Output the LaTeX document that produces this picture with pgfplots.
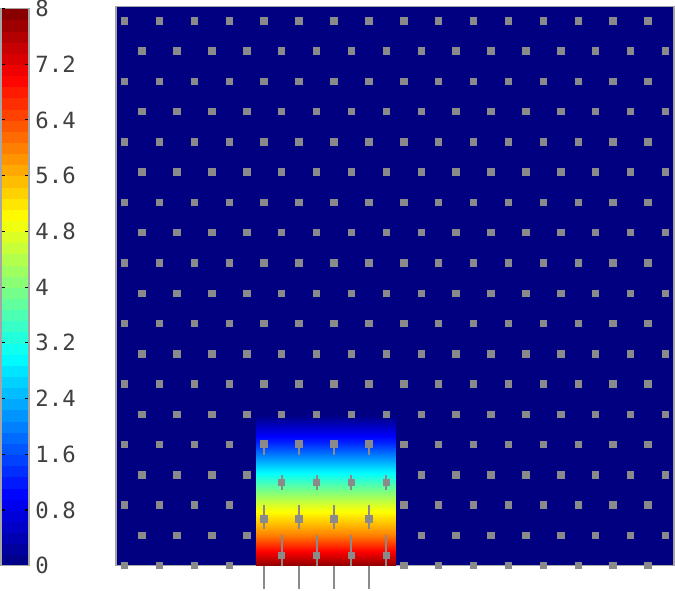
\documentclass[border=0pt]{standalone}
\usepackage{fontspec}
\usepackage{pgfplots}
\pgfplotsset{compat=1.18}
\newfontfamily\cbfont{DejaVu Sans Mono}
\definecolor{navybg}{RGB}{0,0,128}
\definecolor{dotgray}{RGB}{138,138,138}
\definecolor{framegray}{RGB}{165,165,165}

\begin{document}
\begin{tikzpicture}
\begin{axis}[
  name=main,
  at={(0,0)}, anchor=south west,
  scale only axis, width=550pt, height=551pt,
  xmin=0, xmax=16, ymin=0, ymax=16,
  xtick=\empty, ytick=\empty,
  axis background/.style={fill=navybg},
  axis line style={draw=framegray, line width=1.5pt},
  colormap/jet, point meta min=0, point meta max=8,
  colorbar sampled,
  colorbar style={
    samples=51,
    scale only axis, width=28pt, height=549pt,
    at={(parent axis.south west)}, anchor=south east, xshift=-94pt,
    ytick={0,0.8,1.6,2.4,3.2,4,4.8,5.6,6.4,7.2,8},
    yticklabels={0,0.8,1.6,2.4,3.2,4,4.8,5.6,6.4,7.2,8},
    yticklabel pos=right, ytick pos=both, ytick align=inside,
    major tick length=4pt,
    tick style={black, line width=1pt},
    axis line style={draw=framegray, line width=1.5pt},
    yticklabel style={font=\cbfont\fontsize{22}{26}\selectfont, text=black!75, anchor=west, inner sep=0pt, xshift=6pt},
  },
]
% water column, pressure value per row
\addplot[surf, shader=interp, mesh/cols=2, point meta=explicit] table[meta=c] {
x y c
4 0 7.9
8 0 7.9
4 0.87 6.0
8 0.87 6.0
4 1.73 4.7
8 1.73 4.7
4 2.6 3.1
8 2.6 3.1
4 3.5 1.3
8 3.5 1.3
4 4.3 0
8 4.3 0
};
% velocity lines of the moving particles
\addplot[dotgray, line width=2pt, quiver={u=0, v=\thisrow{v}}] table {
x y v
4.25 3.48 -0.30
5.25 3.48 -0.30
6.25 3.48 -0.30
7.25 3.48 -0.30
4.75 2.60 -0.42
5.75 2.60 -0.42
6.75 2.60 -0.42
7.75 2.60 -0.42
4.25 1.73 -0.69
5.25 1.73 -0.69
6.25 1.73 -0.69
7.25 1.73 -0.69
4.75 0.87 -0.95
5.75 0.87 -0.95
6.75 0.87 -0.95
7.75 0.87 -0.95
};
% moving particles
\addplot[only marks, mark=square*, mark size=3.2pt, mark options={fill=dotgray, draw=dotgray, line width=0pt}] coordinates {
(4.25,3.48) (5.25,3.48) (6.25,3.48) (7.25,3.48)
(4.75,2.38) (5.75,2.38) (6.75,2.38) (7.75,2.38)
(4.25,1.34) (5.25,1.34) (6.25,1.34) (7.25,1.34)
(4.75,0.29) (5.75,0.29) (6.75,0.29) (7.75,0.29)
};
% fixed particles
\addplot[only marks, mark=square*, mark size=3.2pt, mark options={fill=dotgray, draw=dotgray, line width=0pt}] coordinates {
(0.25,0) (1.25,0) (2.25,0) (3.25,0) (8.25,0) (9.25,0) (10.25,0) (11.25,0) (12.25,0) (13.25,0) (14.25,0) (15.25,0)
(0.75,0.866) (1.75,0.866) (2.75,0.866) (3.75,0.866) (8.75,0.866) (9.75,0.866) (10.75,0.866) (11.75,0.866) (12.75,0.866) (13.75,0.866) (14.75,0.866) (15.75,0.866)
(0.25,1.732) (1.25,1.732) (2.25,1.732) (3.25,1.732) (8.25,1.732) (9.25,1.732) (10.25,1.732) (11.25,1.732) (12.25,1.732) (13.25,1.732) (14.25,1.732) (15.25,1.732)
(0.75,2.598) (1.75,2.598) (2.75,2.598) (3.75,2.598) (8.75,2.598) (9.75,2.598) (10.75,2.598) (11.75,2.598) (12.75,2.598) (13.75,2.598) (14.75,2.598) (15.75,2.598)
(0.25,3.464) (1.25,3.464) (2.25,3.464) (3.25,3.464) (8.25,3.464) (9.25,3.464) (10.25,3.464) (11.25,3.464) (12.25,3.464) (13.25,3.464) (14.25,3.464) (15.25,3.464)
(0.75,4.330) (1.75,4.330) (2.75,4.330) (3.75,4.330) (4.75,4.330) (5.75,4.330) (6.75,4.330) (7.75,4.330) (8.75,4.330) (9.75,4.330) (10.75,4.330) (11.75,4.330) (12.75,4.330) (13.75,4.330) (14.75,4.330) (15.75,4.330)
(0.25,5.196) (1.25,5.196) (2.25,5.196) (3.25,5.196) (4.25,5.196) (5.25,5.196) (6.25,5.196) (7.25,5.196) (8.25,5.196) (9.25,5.196) (10.25,5.196) (11.25,5.196) (12.25,5.196) (13.25,5.196) (14.25,5.196) (15.25,5.196)
(0.75,6.062) (1.75,6.062) (2.75,6.062) (3.75,6.062) (4.75,6.062) (5.75,6.062) (6.75,6.062) (7.75,6.062) (8.75,6.062) (9.75,6.062) (10.75,6.062) (11.75,6.062) (12.75,6.062) (13.75,6.062) (14.75,6.062) (15.75,6.062)
(0.25,6.928) (1.25,6.928) (2.25,6.928) (3.25,6.928) (4.25,6.928) (5.25,6.928) (6.25,6.928) (7.25,6.928) (8.25,6.928) (9.25,6.928) (10.25,6.928) (11.25,6.928) (12.25,6.928) (13.25,6.928) (14.25,6.928) (15.25,6.928)
(0.75,7.794) (1.75,7.794) (2.75,7.794) (3.75,7.794) (4.75,7.794) (5.75,7.794) (6.75,7.794) (7.75,7.794) (8.75,7.794) (9.75,7.794) (10.75,7.794) (11.75,7.794) (12.75,7.794) (13.75,7.794) (14.75,7.794) (15.75,7.794)
(0.25,8.660) (1.25,8.660) (2.25,8.660) (3.25,8.660) (4.25,8.660) (5.25,8.660) (6.25,8.660) (7.25,8.660) (8.25,8.660) (9.25,8.660) (10.25,8.660) (11.25,8.660) (12.25,8.660) (13.25,8.660) (14.25,8.660) (15.25,8.660)
(0.75,9.526) (1.75,9.526) (2.75,9.526) (3.75,9.526) (4.75,9.526) (5.75,9.526) (6.75,9.526) (7.75,9.526) (8.75,9.526) (9.75,9.526) (10.75,9.526) (11.75,9.526) (12.75,9.526) (13.75,9.526) (14.75,9.526) (15.75,9.526)
(0.25,10.392) (1.25,10.392) (2.25,10.392) (3.25,10.392) (4.25,10.392) (5.25,10.392) (6.25,10.392) (7.25,10.392) (8.25,10.392) (9.25,10.392) (10.25,10.392) (11.25,10.392) (12.25,10.392) (13.25,10.392) (14.25,10.392) (15.25,10.392)
(0.75,11.258) (1.75,11.258) (2.75,11.258) (3.75,11.258) (4.75,11.258) (5.75,11.258) (6.75,11.258) (7.75,11.258) (8.75,11.258) (9.75,11.258) (10.75,11.258) (11.75,11.258) (12.75,11.258) (13.75,11.258) (14.75,11.258) (15.75,11.258)
(0.25,12.124) (1.25,12.124) (2.25,12.124) (3.25,12.124) (4.25,12.124) (5.25,12.124) (6.25,12.124) (7.25,12.124) (8.25,12.124) (9.25,12.124) (10.25,12.124) (11.25,12.124) (12.25,12.124) (13.25,12.124) (14.25,12.124) (15.25,12.124)
(0.75,12.990) (1.75,12.990) (2.75,12.990) (3.75,12.990) (4.75,12.990) (5.75,12.990) (6.75,12.990) (7.75,12.990) (8.75,12.990) (9.75,12.990) (10.75,12.990) (11.75,12.990) (12.75,12.990) (13.75,12.990) (14.75,12.990) (15.75,12.990)
(0.25,13.856) (1.25,13.856) (2.25,13.856) (3.25,13.856) (4.25,13.856) (5.25,13.856) (6.25,13.856) (7.25,13.856) (8.25,13.856) (9.25,13.856) (10.25,13.856) (11.25,13.856) (12.25,13.856) (13.25,13.856) (14.25,13.856) (15.25,13.856)
(0.75,14.722) (1.75,14.722) (2.75,14.722) (3.75,14.722) (4.75,14.722) (5.75,14.722) (6.75,14.722) (7.75,14.722) (8.75,14.722) (9.75,14.722) (10.75,14.722) (11.75,14.722) (12.75,14.722) (13.75,14.722) (14.75,14.722) (15.75,14.722)
(0.25,15.588) (1.25,15.588) (2.25,15.588) (3.25,15.588) (4.25,15.588) (5.25,15.588) (6.25,15.588) (7.25,15.588) (8.25,15.588) (9.25,15.588) (10.25,15.588) (11.25,15.588) (12.25,15.588) (13.25,15.588) (14.25,15.588) (15.25,15.588)
};
\end{axis}
% lines of the particles that have left the bottom of the box
\begin{axis}[
  at={(main.south west)}, anchor=south west,
  scale only axis, width=550pt, height=551pt,
  xmin=0, xmax=16, ymin=0, ymax=16,
  hide axis, clip=false,
]
\addplot[dotgray, line width=2pt, quiver={u=0, v=\thisrow{v}}] table {
x y v
4.25 0 -0.67
5.25 0 -0.67
6.25 0 -0.67
7.25 0 -0.67
};
\end{axis}
\end{tikzpicture}
\end{document}
